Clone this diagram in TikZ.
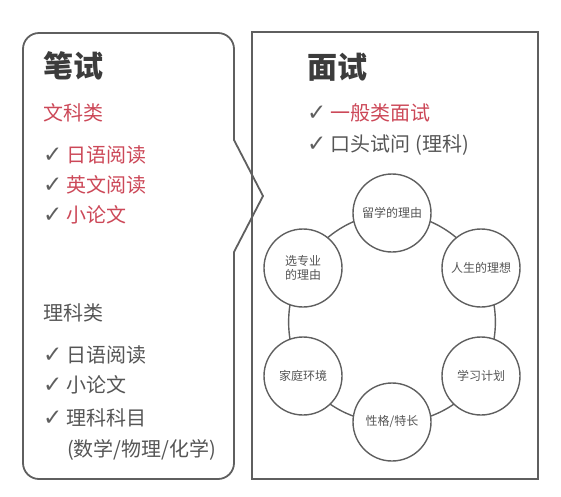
\documentclass[tikz,border=0pt]{standalone}
\usepackage{fontspec}
\setmainfont{Noto Sans CJK SC}
\newfontfamily\symfont{DejaVu Sans}
\usetikzlibrary{backgrounds}
\definecolor{textgray}{RGB}{85,85,85}
\definecolor{titlegray}{RGB}{60,60,60}
\definecolor{linegray}{RGB}{95,95,95}
\definecolor{pickred}{RGB}{204,72,88}
\newcommand{\chk}{{\symfont\bfseries\fontsize{23}{23}\selectfont\color{linegray}✓}\hspace{4pt}}
\tikzset{
        textnode/.style={anchor=west, inner sep=0pt, text=textgray},
        % Section titles
        node_title/.style={textnode, font=\fontsize{30}{30}\selectfont\bfseries, text=titlegray},
        % List items
        node_item/.style={textnode, font=\fontsize{20}{24}\selectfont},
        % Highlighted items
        node_red/.style={node_item, text=pickred},
        % Topic circles
        node_topic/.style={circle, draw=linegray, line width=1.4pt, fill=white, minimum size=78pt, inner sep=0pt, align=center, text=textgray, font=\fontsize{12}{14}\selectfont},
        % Connectors between topics
        topic_link/.style={draw=linegray, line width=1.4pt, bend left=30, looseness=0.91},
        outline/.style={draw=linegray, line width=1.8pt}
}

\begin{document}
\begin{tikzpicture}[x=1pt, y=-1pt]
    \useasboundingbox (0,0) rectangle (561,496);
    % Written exam
    \draw[outline, line join=round] (234,140) [rounded corners=16pt] -- (234,33) -- (23,33) -- (23,479) -- (234,479) [sharp corners] -- (234,252) -- (263,196) -- cycle;
    \node[node_title] (bishi) at (43,66) {笔试};
    \node[node_red] (wenke) at (43,113) {文科类};
    \node[node_red] (wenke_a) at (43,155) {\chk 日语阅读};
    \node[node_red] (wenke_b) at (43,185) {\chk 英文阅读};
    \node[node_red] (wenke_c) at (43,215) {\chk 小论文};
    \node[node_item] (like) at (43,313) {理科类};
    \node[node_item] (like_a) at (43,355) {\chk 日语阅读};
    \node[node_item] (like_b) at (43,385) {\chk 小论文};
    \node[node_item] (like_c) at (43,418) {\chk 理科科目};
    \node[node_item] (like_d) at (67,450) {(数学/物理/化学)};
    % Interview
    \draw[outline, line width=2.4pt] (252,32) rectangle (538,479);
    \node[node_title] (mianshi) at (307,67) {面试};
    \node[node_red] (mianshi_a) at (307,113) {\chk 一般类面试};
    \node[node_item] (mianshi_b) at (307,145) {\chk 口头试问\hspace{5pt}(理科)};
    % Topics
    \node[node_topic] (liuxue) at (392,213) {留学的理由};
    \node[node_topic] (rensheng) at (481,268) {人生的理想};
    \node[node_topic] (xuexi) at (481,376) {学习计划};
    \node[node_topic] (xingge) at (392,422) {性格/特长};
    \node[node_topic] (jiating) at (303,376) {家庭环境};
    \node[node_topic] (zhuanye) at (303,268) {选专业\\的理由};
    \begin{scope}[on background layer]
        \draw[topic_link] (liuxue.center) to (rensheng.center);
        \draw[topic_link] (rensheng.center) to (xuexi.center);
        \draw[topic_link] (xuexi.center) to (xingge.center);
        \draw[topic_link] (xingge.center) to (jiating.center);
        \draw[topic_link] (jiating.center) to (zhuanye.center);
        \draw[topic_link] (zhuanye.center) to (liuxue.center);
    \end{scope}
\end{tikzpicture}
\end{document}
